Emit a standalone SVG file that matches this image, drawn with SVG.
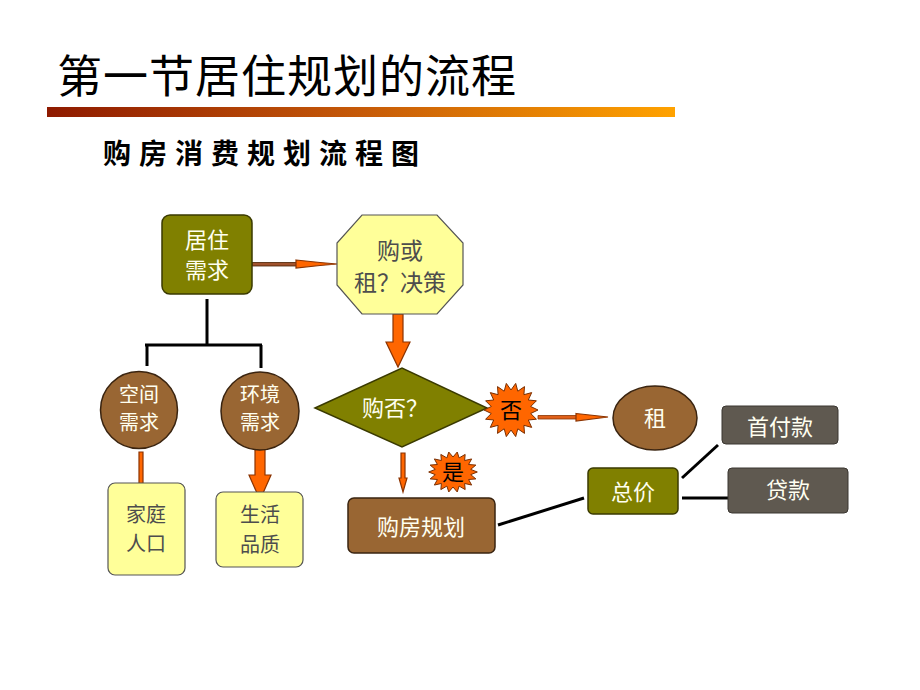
<svg xmlns="http://www.w3.org/2000/svg" xmlns:xlink="http://www.w3.org/1999/xlink" width="920" height="690" viewBox="0 0 920 690">
<style>
text{font-family:"Noto Sans CJK SC","Noto Sans",sans-serif;text-anchor:middle}
.t{font-size:22px}
.s{font-size:20px}
.w{fill:#FFFFF0}
.d{fill:#4D4D4D}
.k{fill:#000}
.olive{fill:#808000;stroke:#3A3A00;stroke-width:1.5}
.brown{fill:#996633;stroke:#3A2410;stroke-width:1.5}
.yel{fill:#FFFF99;stroke:#555;stroke-width:1.2}
.gray{fill:#5F5950;stroke:#3A3630;stroke-width:1}
.ln{stroke:#000;stroke-width:3;fill:none}
.arr{fill:#FF6600;stroke:#8B3300;stroke-width:1.2}
.star{fill:#FF6600;stroke:#7A2E00;stroke-width:1}
</style>
<defs>
<linearGradient id="bar" x1="0" y1="0" x2="1" y2="0">
<stop offset="0" stop-color="#8E1A00"/>
<stop offset="0.5" stop-color="#C65A08"/>
<stop offset="1" stop-color="#FFA200"/>
</linearGradient>
<polygon id="starShape" vector-effect="non-scaling-stroke" points="27,0 19.7,3.5 25.4,9.2 17.3,10 20.7,17.4 12.9,15.3 13.5,23.4 6.8,18.8 4.7,26.6 0,20 -4.7,26.6 -6.8,18.8 -13.5,23.4 -12.9,15.3 -20.7,17.4 -17.3,10 -25.4,9.2 -19.7,3.5 -27,0 -19.7,-3.5 -25.4,-9.2 -17.3,-10 -20.7,-17.4 -12.9,-15.3 -13.5,-23.4 -6.8,-18.8 -4.7,-26.6 0,-20 4.7,-26.6 6.8,-18.8 13.5,-23.4 12.9,-15.3 20.7,-17.4 17.3,-10 25.4,-9.2 19.7,-3.5"/>
</defs>
<rect width="920" height="690" fill="#FFFFFF"/>

<g id="title">
<text x="57" y="93" style="font-size:45px;text-anchor:start;letter-spacing:1px" class="k">第一节居住规划的流程</text>
<rect x="47" y="107" width="628" height="10" fill="url(#bar)"/>
<text x="103" y="164" style="font-size:28px;font-weight:bold;text-anchor:start;letter-spacing:8px" class="k">购房消费规划流程图</text>
</g>

<g id="connectors">
<!-- 居住需求 -> 决策 -->
<path d="M252,262.5 H300 V266 H252 Z" fill="#A0522D" stroke="#4A2000" stroke-width="0.8"/>
<path d="M296,260 L320,262.5 L337,264 L320,265.5 L296,268 Z" class="arr" stroke-width="0.8"/>
<!-- 决策 -> 购否 -->
<path d="M393,314 H403 V342 H410 L398,367 L386,342 H393 Z" class="arr"/>
<!-- tree lines -->
<path d="M207,299 V345 M145,345 H262 M147,345 V366 M261,345 V368" class="ln"/>
<!-- 空间需求 -> 家庭人口 -->
<path d="M139,452 H143 V488 H145 L141,503 L137,488 H139 Z" class="arr" stroke-width="1"/>
<!-- 环境需求 -> 生活品质 -->
<path d="M255,448 H265 V475 H271 L260,500 L249,475 H255 Z" class="arr"/>
<!-- 否 -> 租 -->
<path d="M538,415.5 H580 V419 H538 Z" fill="#E0601A" stroke="#8B3300" stroke-width="0.8"/>
<path d="M576,413.5 L608,417 L576,421 Z" class="arr" stroke-width="0.8"/>
<!-- 购否 -> 购房规划 -->
<path d="M401,453 H405 V478 H407 L403,492 L399,478 H401 Z" class="arr" stroke-width="1"/>
<!-- 购房规划 - 总价 -->
<path d="M498,525 L584,498" class="ln"/>
<!-- 总价 - 首付款 / 贷款 -->
<path d="M682,478 L718,445" class="ln"/>
<path d="M682,498 H732" class="ln"/>
</g>

<g id="node-juzhu">
<rect x="162" y="215" width="90" height="79" rx="8" class="olive"/>
<text x="207" y="248" class="t w">居住</text>
<text x="207" y="278" class="t w">需求</text>
</g>

<g id="node-juece">
<polygon points="362,215 437,215 463,243 463,285 437,314 362,314 337,285 337,243" class="yel"/>
<text x="400" y="259" class="t d" style="font-size:23px">购或</text>
<text x="400" y="291" class="t d" style="font-size:23px">租？决策</text>
</g>

<g id="node-kongjian">
<circle cx="139" cy="410" r="38.5" class="brown"/>
<text x="139" y="402" class="s w">空间</text>
<text x="139" y="430" class="s w">需求</text>
</g>

<g id="node-huanjing">
<circle cx="260" cy="411" r="39" class="brown"/>
<text x="260" y="402" class="s w">环境</text>
<text x="260" y="430" class="s w">需求</text>
</g>

<g id="node-jiating">
<rect x="108" y="483" width="77" height="92" rx="7" class="yel"/>
<text x="146" y="522" class="s d">家庭</text>
<text x="146" y="551" class="s d">人口</text>
</g>

<g id="node-shenghuo">
<rect x="216" y="492" width="87" height="75" rx="7" class="yel"/>
<text x="260" y="522" class="s d">生活</text>
<text x="260" y="552" class="s d">品质</text>
</g>

<g id="node-goufou">
<polygon points="315,408 402,368 487,408 402,447" class="olive"/>
<text x="395" y="416" class="t w">购否？</text>
</g>

<g id="node-fou">
<use xlink:href="#starShape" href="#starShape" transform="translate(511,410)" class="star"/>
<text x="511" y="418" class="t k">否</text>
</g>

<g id="node-zu">
<ellipse cx="655" cy="418" rx="42" ry="32" class="brown"/>
<text x="655" y="426" class="t w">租</text>
</g>

<g id="node-shi">
<use xlink:href="#starShape" href="#starShape" transform="translate(453,472) scale(0.9,0.75)" class="star"/>
<text x="453" y="480" class="t k">是</text>
</g>

<g id="node-goufang">
<rect x="348" y="498" width="147" height="55" rx="6" class="brown"/>
<text x="421" y="535" class="t w">购房规划</text>
</g>

<g id="node-zongjia">
<rect x="588" y="468" width="90" height="46" rx="5" class="olive"/>
<text x="633" y="500" class="t w">总价</text>
</g>

<g id="node-shoufu">
<rect x="722" y="406" width="116" height="38" rx="4" class="gray"/>
<text x="780" y="435" class="t w">首付款</text>
</g>

<g id="node-daikuan">
<rect x="728" y="468" width="120" height="45" rx="4" class="gray"/>
<text x="788" y="498" class="t w">贷款</text>
</g>
</svg>
